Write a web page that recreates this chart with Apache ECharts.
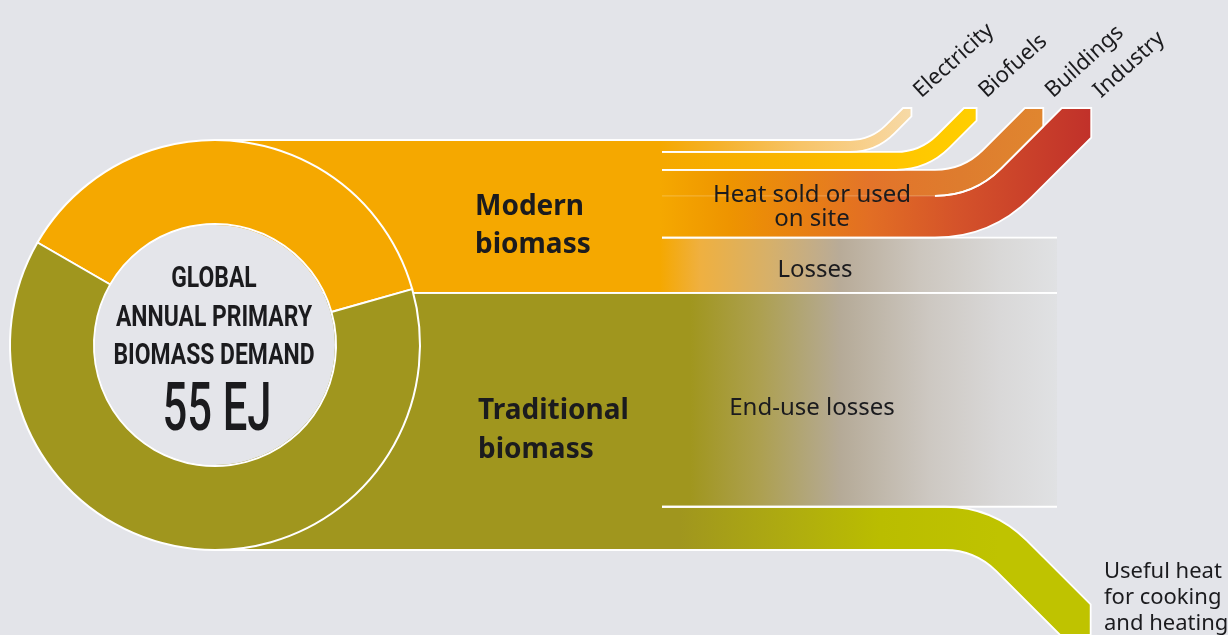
<!DOCTYPE html>
<html>
<head>
<meta charset="utf-8">
<title>Global annual primary biomass demand</title>
<script src="https://cdn.jsdelivr.net/npm/echarts@6.0.0/dist/echarts.min.js"></script>
<style>
html, body { margin: 0; padding: 0; background: #E3E4E9; }
#main { width: 1228px; height: 635px; }
</style>
</head>
<body>
<div id="main"></div>
<script>
// ---- data (EJ per year) ----
var sourceNames = ['Modern biomass', 'Traditional biomass'];
var flowNames = ['Electricity', 'Biofuels', 'Buildings', 'Industry', 'Losses', 'End-use losses', 'Useful heat'];
var flowSource = [0, 0, 0, 0, 0, 1, 1];
var flowValues = [1.6, 2.4, 3.5, 5.6, 7.4, 28.7, 5.8];

// totals per source, and the stacked top of every flow (top to bottom)
var total = 0;
var sourceValues = [0, 0];
flowValues.forEach(function (v, i) {
	total += v;
	sourceValues[flowSource[i]] += v;
});
var flowTop = [];
var acc = total;
flowValues.forEach(function (v) {
	flowTop.push(acc);
	acc -= v;
});

// ---- layout ----
var CENTER = [215, 345];
var RING = [121, 205];
var SPLIT_X = 660;     // flows separate here
var LINE_X = 662;      // white dividers start here
var FADE_X = 1057;     // end of the fading loss bands
var TIP_Y = 108;       // upward branches end here
var DOWN_END_Y = 635;  // downward branch ends here
var SQ2 = Math.SQRT2;
var OVERLAP = 0.8;     // hides anti-alias seams between neighbouring fills

var ORANGE = '#F5A800';
var OLIVE = '#A0961E';
var BG = '#E3E4E9';
var INK = '#1B1B1E';

// kind of shape, bend position and colour stops [x, colour] for each flow
var flowLayout = [
	{ kind: 'up', turnX: 871, stops: [[660, ORANGE], [720, '#F5B22C'], [800, '#F7C468'], [880, '#F8D395'], [915, '#F6DBA9']] },
	{ kind: 'up', turnX: 920, stops: [[660, ORANGE], [800, '#FAB700'], [900, '#FFC600'], [980, '#FFCF00']] },
	{ kind: 'up', turnX: 963, stops: [[660, ORANGE], [730, '#EE9400'], [870, '#E3742A'], [960, '#DE7C2E'], [1045, '#E0862F']] },
	{ kind: 'up', joinPrev: true, stops: [[660, ORANGE], [730, '#EE9400'], [870, '#E26E24'], [960, '#D4522A'], [1095, '#C0302A']] },
	{ kind: 'fade', stops: [[660, ORANGE], [700, '#EFB040'], [770, '#D6B06A'], [840, '#B8AB98'], [920, '#CCC6BE'], [1000, '#D9D8D7'], [1057, '#E0E1E3']] },
	{ kind: 'fade', stops: [[690, OLIVE], [760, '#ADA050'], [840, '#B5AA97'], [930, '#CDC8C2'], [1000, '#D9D8D8'], [1057, '#E0E1E3']] },
	{ kind: 'down', turnX: 993, stops: [[680, OLIVE], [800, '#B0AE0E'], [880, '#BABD00'], [1000, '#BFC300']] }
];
// where the white outline of each edge begins: 'c' = circle, 'l' = LINE_X, 's' = where branches split
var edgeStart = [['c', 'l'], ['l', 'l'], ['l', 's'], ['s', 'l'], ['l', 'c'], ['c', 'l'], ['l', 'c']];

function gradient(stops) {
	var x1 = stops[0][0];
	var x2 = stops[stops.length - 1][0];
	return new echarts.graphic.LinearGradient(x1, 0, x2, 0, stops.map(function (s) {
		return { offset: (s[0] - x1) / (x2 - x1), color: s[1] };
	}), true);
}

function bandY(i, api) {
	var yT = api.coord([SPLIT_X, flowTop[i]])[1];
	var yB = api.coord([SPLIT_X, flowTop[i] - flowValues[i]])[1];
	return [yT, yB];
}

function upGeom(i, api) {
	var lay = flowLayout[i];
	var y = bandY(i, api);
	var g = { yT: y[0], yB: y[1], t: y[1] - y[0] };
	if (lay.joinPrev) {
		var p = upGeom(i - 1, api);
		g.cT = p.cB;
		g.dT = p.dB;
	} else {
		g.cT = lay.turnX;
		g.dT = 15 + 0.5 * g.t;
	}
	g.kT = g.cT + g.yT;
	g.kB = g.kT + g.t * SQ2;
	g.cB = g.kB - g.yB;
	g.dB = g.dT + (SQ2 - 1) * g.t;
	g.xL = g.kT - TIP_Y;
	g.xc = g.xL + g.t * SQ2 / 2;
	g.yc = TIP_Y + g.t * SQ2 / 2;
	return g;
}

function downGeom(i, api) {
	var lay = flowLayout[i];
	var y = bandY(i, api);
	var g = { yT: y[0], yB: y[1], t: y[1] - y[0] };
	g.cT = lay.turnX;
	g.dB = 30;
	g.dT = g.dB + (SQ2 - 1) * g.t;
	g.kT = g.cT - g.yT;
	g.kB = g.kT - g.t * SQ2;
	g.cB = g.kB + g.yB;
	g.xL = g.kB + DOWN_END_Y;
	g.xc = g.xL + g.t * SQ2 / 2;
	g.yc = DOWN_END_Y - g.t * SQ2 / 2;
	return g;
}

function pt(x, y) {
	return x.toFixed(2) + ' ' + y.toFixed(2);
}

function renderFlow(params, api) {
	var i = params.dataIndex;
	var lay = flowLayout[i];
	var x0 = CENTER[0];
	var g, top, bottom, splitT, splitB, fillEnd;
	var children = [];

	if (lay.kind === 'up') {
		g = upGeom(i, api);
		splitT = g.cT - g.dT;
		splitB = g.cB - g.dB;
		top = ' L ' + pt(g.cT - g.dT, g.yT) + ' Q ' + pt(g.cT, g.yT) + ' ' + pt(g.cT + g.dT / SQ2, g.yT - g.dT / SQ2) +
			' L ' + pt(g.xL, TIP_Y) + ' L ' + pt(g.xc, TIP_Y) + ' L ' + pt(g.xc, g.yc);
		bottom = ' L ' + pt(g.cB + g.dB / SQ2, g.yB - g.dB / SQ2) + ' Q ' + pt(g.cB, g.yB) + ' ' + pt(g.cB - g.dB, g.yB);
		fillEnd = ' L ' + pt(g.cB - g.dB, g.yB + OVERLAP) + ' L ' + pt(x0, g.yB + OVERLAP);
		children.push({
			type: 'text', x: g.xc + 13, y: TIP_Y - 6, rotation: 42 * Math.PI / 180, z2: 20,
			style: { text: flowNames[i], font: '22px "Noto Sans"', fill: INK, align: 'left', verticalAlign: 'bottom' }
		});
	} else if (lay.kind === 'down') {
		g = downGeom(i, api);
		splitT = splitB = g.cB - g.dB;
		top = ' L ' + pt(g.cT - g.dT, g.yT) + ' Q ' + pt(g.cT, g.yT) + ' ' + pt(g.cT + g.dT / SQ2, g.yT + g.dT / SQ2) +
			' L ' + pt(g.xc, g.yc) + ' L ' + pt(g.xc, DOWN_END_Y) + ' L ' + pt(g.xL, DOWN_END_Y);
		bottom = ' L ' + pt(g.cB + g.dB / SQ2, g.yB + g.dB / SQ2) + ' Q ' + pt(g.cB, g.yB) + ' ' + pt(g.cB - g.dB, g.yB);
		fillEnd = ' L ' + pt(x0, g.yB);
	} else {
		var y = bandY(i, api);
		g = { yT: y[0], yB: y[1] };
		splitT = splitB = FADE_X;
		top = ' L ' + pt(FADE_X, g.yT);
		bottom = ' L ' + pt(FADE_X, g.yB);
		fillEnd = ' L ' + pt(FADE_X, g.yB + OVERLAP) + ' L ' + pt(x0, g.yB + OVERLAP);
	}

	// fill
	children.push({
		type: 'path', z2: 1,
		shape: { pathData: 'M ' + pt(x0, g.yT) + top + (lay.kind === 'fade' ? '' : bottom) + fillEnd + ' Z' },
		style: { fill: gradient(lay.stops), stroke: null }
	});

	// white outline on the top and bottom edges (open at the left)
	function startX(code, split) {
		return code === 'c' ? x0 : (code === 's' ? split : LINE_X);
	}
	var sT = startX(edgeStart[i][0], splitT);
	var sB = startX(edgeStart[i][1], splitB);
	var outline;
	if (lay.kind === 'fade') {
		outline = 'M ' + pt(sT, g.yT) + top + ' M ' + pt(sB, g.yB) + bottom;
	} else {
		outline = 'M ' + pt(sT, g.yT) + top + bottom + ' L ' + pt(sB, g.yB);
	}
	children.push({
		type: 'path', z2: 10,
		shape: { pathData: outline },
		style: { fill: null, stroke: '#FFFFFF', lineWidth: 1.8 }
	});

	// faint seam inside the shared "heat" band before it splits
	if (edgeStart[i][1] === 's') {
		children.push({
			type: 'path', z2: 9,
			shape: { pathData: 'M ' + pt(LINE_X, g.yB) + ' L ' + pt(splitB, g.yB) },
			style: { fill: null, stroke: 'rgba(255,255,255,0.25)', lineWidth: 1 }
		});
	}
	return { type: 'group', children: children };
}

function text(str, x, y, font, align, extra) {
	var el = {
		type: 'text', x: x, y: y, z: 20, silent: true,
		style: {
			text: str, font: font, fill: INK,
			align: align || 'left', verticalAlign: 'middle',
			textAlign: align || 'left', textVerticalAlign: 'middle'
		}
	};
	if (extra) {
		for (var k in extra) el[k] = extra[k];
	}
	return el;
}

var chart = echarts.init(document.getElementById('main'));

var option = {
	backgroundColor: BG,
	animation: false,
	grid: { left: 0, right: 0, top: 140, bottom: 85 },
	xAxis: { type: 'value', min: 0, max: 1228, show: false },
	yAxis: { type: 'value', min: 0, max: total, show: false },
	series: [{
		type: 'custom',
		z: 1,
		silent: true,
		clip: false,
		renderItem: renderFlow,
		encode: { x: 0, y: 1 },
		data: flowValues.map(function (v, i) {
			return [SPLIT_X, flowTop[i] - v / 2];
		})
	}, {
		type: 'pie',
		z: 3,
		silent: true,
		center: CENTER,
		radius: RING,
		startAngle: 150,
		clockwise: true,
		label: { show: false },
		labelLine: { show: false },
		itemStyle: { borderColor: '#FFFFFF', borderWidth: 2 },
		data: [
			{ name: sourceNames[0], value: sourceValues[0], itemStyle: { color: ORANGE } },
			{ name: sourceNames[1], value: sourceValues[1], itemStyle: { color: OLIVE } }
		]
	}],
	graphic: [
		{
			type: 'circle', z: 10, silent: true,
			shape: { cx: CENTER[0], cy: CENTER[1], r: RING[0] - 1 },
			style: { fill: '#E4E5EA', stroke: null }
		},
		text('GLOBAL', 214, 280, 'bold 29px Roboto', 'center', { scaleX: 0.79 }),
		text('ANNUAL PRIMARY', 214, 319, 'bold 29px Roboto', 'center', { scaleX: 0.79 }),
		text('BIOMASS DEMAND', 214, 357, 'bold 29px Roboto', 'center', { scaleX: 0.79 }),
		text(Math.round(total) + ' EJ', 217, 413, '500 66px Roboto', 'center', { scaleX: 0.66 }),

		text('Modern', 475, 207, 'bold 28px "Noto Sans"'),
		text('biomass', 475, 245, 'bold 28px "Noto Sans"'),
		text('Traditional', 478, 411, 'bold 28px "Noto Sans"'),
		text('biomass', 478, 450, 'bold 28px "Noto Sans"'),

		text('Heat sold or used', 812, 195, '24px "Noto Sans"', 'center'),
		text('on site', 812, 219, '24px "Noto Sans"', 'center'),
		text('Losses', 815, 270, '24px "Noto Sans"', 'center'),
		text('End-use losses', 812, 408, '24px "Noto Sans"', 'center'),
		text('Useful heat', 1104, 572, '22px "Noto Sans"'),
		text('for cooking', 1104, 598, '22px "Noto Sans"'),
		text('and heating', 1104, 624, '22px "Noto Sans"')
	]
};

chart.setOption(option);
</script>
</body>
</html>
